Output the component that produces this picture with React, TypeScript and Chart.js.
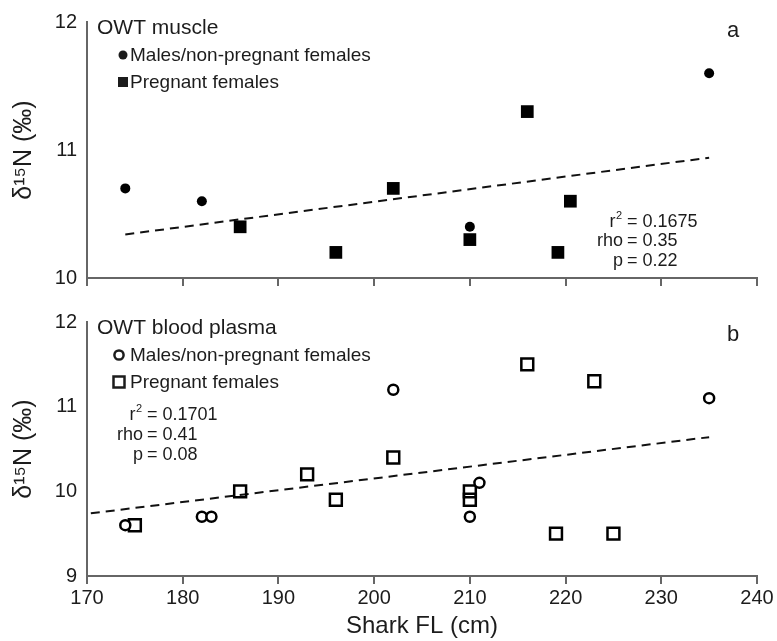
import React, { useEffect, useRef } from 'react';
import { Chart, registerables } from 'chart.js';

Chart.register(...registerables);

// ---------- data ----------
const xMin = 170;
const xMax = 240;
const xStep = 10;

const muscleTitle = 'OWT muscle';
const muscleMaleX = [174, 182, 210, 235];
const muscleMaleY = [10.7, 10.6, 10.4, 11.6];
const musclePregX = [186, 196, 202, 210, 216, 220.5, 219.2];
const musclePregY = [10.4, 10.2, 10.7, 10.3, 11.3, 10.6, 10.2];
const muscleTrendX = [174, 235];
const muscleTrendY = [10.34, 10.94];
const muscleStatLabels = ['r', 'rho', 'p'];
const muscleStatValues = ['0.1675', '0.35', '0.22'];
const muscleYRange = [10, 12];

const plasmaTitle = 'OWT blood plasma';
const plasmaMaleX = [174, 182, 183, 202, 210, 211, 235];
const plasmaMaleY = [9.6, 9.7, 9.7, 11.2, 9.7, 10.1, 11.1];
const plasmaPregX = [175, 186, 193, 196, 202, 210, 210, 216, 223, 219, 225];
const plasmaPregY = [9.6, 10.0, 10.2, 9.9, 10.4, 10.0, 9.9, 11.5, 11.3, 9.5, 9.5];
const plasmaTrendX = [170.4, 235];
const plasmaTrendY = [9.74, 10.64];
const plasmaStatLabels = ['r', 'rho', 'p'];
const plasmaStatValues = ['0.1701', '0.41', '0.08'];
const plasmaYRange = [9, 12];

const legendLabels = ['Males/non-pregnant females', 'Pregnant females'];
const yTitle = 'δ¹⁵N (‰)';
const xTitle = 'Shark FL (cm)';

const FONT = "'Liberation Sans', Arial, Helvetica, sans-serif";
const AXIS = '#666';
const INK = '#1c1c1c';

type PanelSpec = {
  title: string;
  letter: string;
  maleX: number[];
  maleY: number[];
  pregX: number[];
  pregY: number[];
  trendX: number[];
  trendY: number[];
  statLabels: string[];
  statValues: string[];
  yRange: number[];
  filled: boolean;
  showXLabels: boolean;
  statsPos: 'right' | 'left';
};

const zip = (xs: number[], ys: number[]) => xs.map((x, i) => ({ x, y: ys[i] }));

function makeTextPlugin(spec: PanelSpec) {
  return {
    id: 'panelText' + spec.letter,
    afterDraw(chart: any) {
      const { ctx, chartArea } = chart;
      const L = chartArea.left;
      const T = chartArea.top;
      const R = chartArea.right;
      ctx.save();
      ctx.fillStyle = INK;
      ctx.strokeStyle = INK;
      ctx.textBaseline = 'middle';
      // panel title
      ctx.textAlign = 'left';
      ctx.font = `21px ${FONT}`;
      ctx.fillText(spec.title, L + 10, T + 6);
      // legend
      const filled = spec.filled;
      const mx = filled ? L + 36 : L + 32;
      const rows = [T + 33, T + 60];
      ctx.font = `19px ${FONT}`;
      // circle marker
      ctx.beginPath();
      if (filled) {
        ctx.arc(mx, rows[0], 4.5, 0, Math.PI * 2);
        ctx.fill();
      } else {
        ctx.lineWidth = 2.5;
        ctx.arc(mx, rows[0], 4.6, 0, Math.PI * 2);
        ctx.stroke();
      }
      // square marker
      if (filled) {
        ctx.fillRect(mx - 5, rows[1] - 5, 10, 10);
      } else {
        ctx.lineWidth = 2.5;
        ctx.strokeRect(mx - 5.5, rows[1] - 5.5, 11, 11);
      }
      ctx.fillText(legendLabels[0], L + 43, rows[0] + 1);
      ctx.fillText(legendLabels[1], L + 43, rows[1] + 1);
      // panel letter
      ctx.textAlign = 'center';
      ctx.font = `22px ${FONT}`;
      ctx.fillText(spec.letter, R - 24, spec.filled ? T + 9 : T + 13);
      // statistics
      const eqX = spec.statsPos === 'right' ? R - 130 : L + 60;
      const y0 = spec.statsPos === 'right' ? T + 200 : T + 93;
      const dy = spec.statsPos === 'right' ? 19.5 : 20;
      ctx.font = `18px ${FONT}`;
      spec.statLabels.forEach((lab, i) => {
        const y = y0 + i * dy;
        ctx.textAlign = 'right';
        if (lab === 'r') {
          ctx.font = `11px ${FONT}`;
          ctx.fillText('2', eqX - 5, y - 6);
          const w2 = ctx.measureText('2').width;
          ctx.font = `18px ${FONT}`;
          ctx.fillText('r', eqX - 5 - w2 - 0.5, y);
        } else {
          ctx.fillText(lab, eqX - 4, y);
        }
        ctx.textAlign = 'left';
        ctx.fillText('= ' + spec.statValues[i], eqX, y);
      });
      ctx.restore();
    },
  };
}

function Panel({ spec, top, height, xScaleHeight, padTop }: { spec: PanelSpec; top: number; height: number; xScaleHeight: number; padTop: number }) {
  const ref = useRef<HTMLCanvasElement | null>(null);
  useEffect(() => {
    if (!ref.current) return;
    const filled = spec.filled;
    const chart = new Chart(ref.current, {
      type: 'scatter',
      data: {
        datasets: [
          {
            label: 'trend',
            type: 'line',
            data: zip(spec.trendX, spec.trendY),
            borderColor: '#111',
            borderWidth: 2,
            borderDash: [9, 6],
            pointRadius: 0,
            fill: false,
            order: 3,
          } as any,
          {
            label: legendLabels[0],
            data: zip(spec.maleX, spec.maleY),
            pointStyle: 'circle',
            pointRadius: 5,
            backgroundColor: filled ? '#000' : '#fff',
            borderColor: '#000',
            borderWidth: filled ? 0 : 2.5,
            order: 1,
          },
          {
            label: legendLabels[1],
            data: zip(spec.pregX, spec.pregY),
            pointStyle: 'rect',
            pointRadius: filled ? 9 : 8.4,
            backgroundColor: filled ? '#000' : 'rgba(255,255,255,0)',
            borderColor: '#000',
            borderWidth: filled ? 0 : 2.5,
            order: 2,
          },
        ],
      },
      options: {
        animation: false,
        responsive: false,
        devicePixelRatio: 1,
        layout: { padding: { top: padTop, right: 20, bottom: 0, left: 0 } },
        plugins: { legend: { display: false }, tooltip: { enabled: false } },
        scales: {
          x: {
            type: 'linear',
            min: xMin,
            max: xMax,
            ticks: {
              stepSize: xStep,
              display: spec.showXLabels,
              color: INK,
              font: { family: FONT, size: 20 },
              padding: 2,
            },
            grid: { drawOnChartArea: false, drawTicks: true, tickLength: 8, color: AXIS, lineWidth: 2 },
            border: { display: true, color: AXIS, width: 2 },
            title: {
              display: spec.showXLabels,
              text: xTitle,
              color: INK,
              font: { family: FONT, size: 24 },
              padding: { top: 0, bottom: 0 },
            },
            afterFit: (s: any) => {
              s.height = xScaleHeight;
            },
          },
          y: {
            type: 'linear',
            min: spec.yRange[0],
            max: spec.yRange[1],
            ticks: {
              stepSize: 1,
              color: INK,
              font: { family: FONT, size: 20 },
              padding: 10,
            },
            grid: { drawOnChartArea: false, drawTicks: false, color: AXIS },
            border: { display: true, color: AXIS, width: 2 },
            title: {
              display: true,
              text: yTitle,
              color: INK,
              font: { family: FONT, size: 25 },
              padding: { top: 9, bottom: 0 },
            },
            afterFit: (s: any) => {
              s.width = 87;
            },
          },
        },
      },
      plugins: [makeTextPlugin(spec)],
    });
    return () => chart.destroy();
  }, []);
  return (
    <canvas
      ref={ref}
      width={777}
      height={height}
      style={{ position: 'absolute', left: 0, top, width: 777, height }}
    />
  );
}

const muscleSpec: PanelSpec = {
  title: muscleTitle,
  letter: 'a',
  maleX: muscleMaleX,
  maleY: muscleMaleY,
  pregX: musclePregX,
  pregY: musclePregY,
  trendX: muscleTrendX,
  trendY: muscleTrendY,
  statLabels: muscleStatLabels,
  statValues: muscleStatValues,
  yRange: muscleYRange,
  filled: true,
  showXLabels: false,
  statsPos: 'right',
};

const plasmaSpec: PanelSpec = {
  title: plasmaTitle,
  letter: 'b',
  maleX: plasmaMaleX,
  maleY: plasmaMaleY,
  pregX: plasmaPregX,
  pregY: plasmaPregY,
  trendX: plasmaTrendX,
  trendY: plasmaTrendY,
  statLabels: plasmaStatLabels,
  statValues: plasmaStatValues,
  yRange: plasmaYRange,
  filled: false,
  showXLabels: true,
  statsPos: 'left',
};

export default function App() {
  return (
    <div style={{ position: 'absolute', left: 0, top: 0, width: 777, height: 641, background: '#fff', overflow: 'hidden' }}>
      <Panel spec={muscleSpec} top={0} height={300} xScaleHeight={14} padTop={20} />
      <Panel spec={plasmaSpec} top={300} height={341} xScaleHeight={65} padTop={22} />
    </div>
  );
}
